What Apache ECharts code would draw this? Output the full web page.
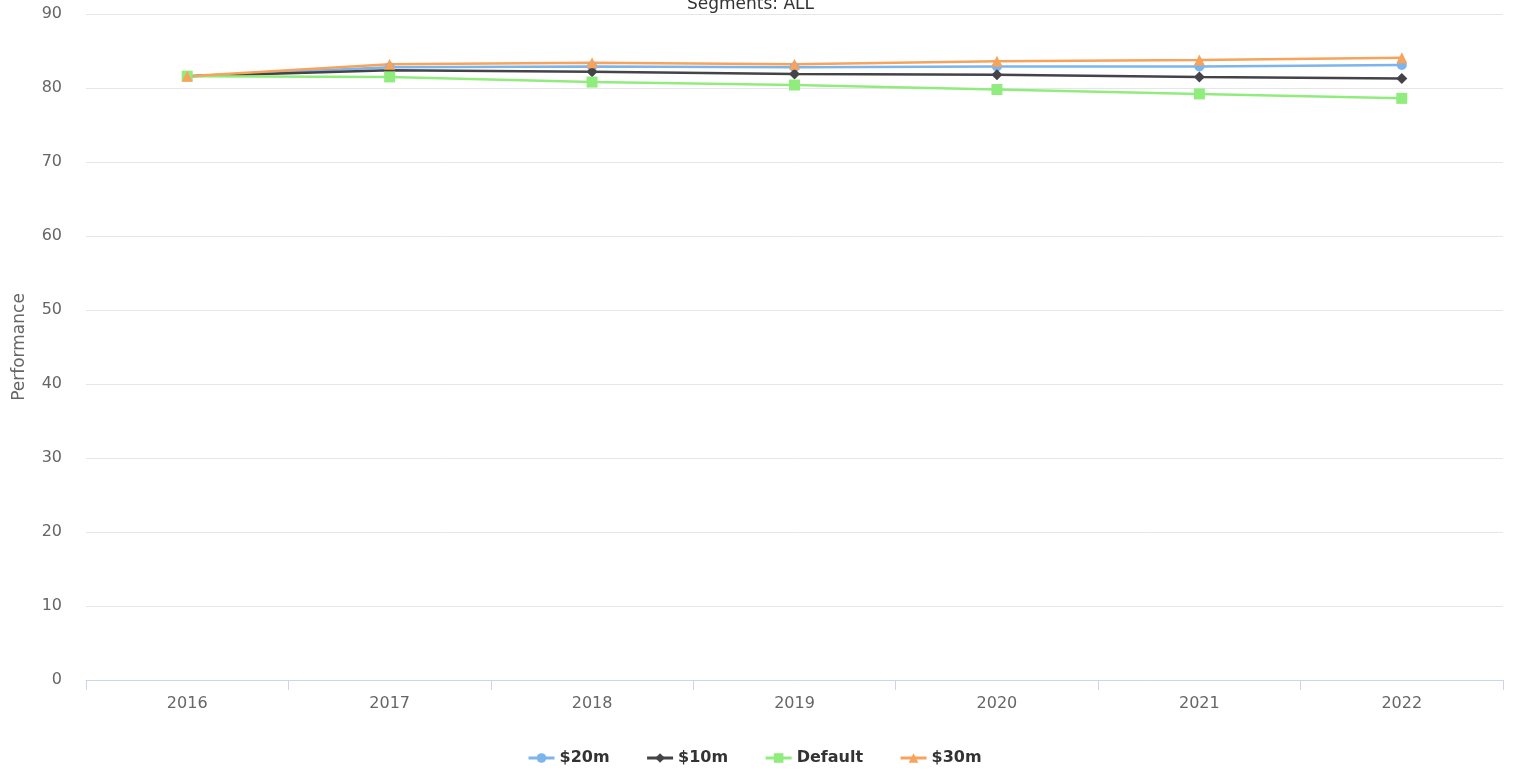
<!DOCTYPE html>
<html>
<head>
<meta charset="utf-8">
<script src="https://cdn.jsdelivr.net/npm/echarts@6/dist/echarts.min.js"></script>
<style>
  html, body { margin: 0; padding: 0; background: #fff; }
  #chart { width: 1515px; height: 770px; }
</style>
</head>
<body>
<div id="chart"></div>
<script>
// years on the x axis
const years = ['2016', '2017', '2018', '2019', '2020', '2021', '2022']
// performance per scenario
const perf20m = [81.6, 82.8, 82.9, 82.8, 82.9, 82.9, 83.1]
const perf10m = [81.6, 82.4, 82.2, 81.9, 81.8, 81.5, 81.3]
const perfDefault = [81.6, 81.5, 80.8, 80.4, 79.8, 79.2, 78.6]
const perf30m = [81.6, 83.2, 83.4, 83.2, 83.6, 83.8, 84.1]

const font = 'DejaVu Sans'
const chart = echarts.init(document.getElementById('chart'))

function line(name, data, color, symbol, size) {
  return {
    name: name,
    type: 'line',
    data: data,
    symbol: symbol,
    symbolSize: size,
    showAllSymbol: true,
    itemStyle: { color: color },
    lineStyle: { color: color, width: 2.5 },
    emphasis: { disabled: true },
    animation: false
  }
}

chart.setOption({
  backgroundColor: '#fff',
  title: {
    text: 'Segments: ALL',
    left: 682,
    top: -9,
    textStyle: { fontFamily: font, fontSize: 17, fontWeight: 'normal', color: '#333' }
  },
  legend: {
    bottom: -1,
    left: 522,
    itemWidth: 26,
    itemHeight: 12,
    itemGap: 36,
    lineStyle: { width: 3 },
    textStyle: { fontFamily: font, fontSize: 16, fontWeight: 'bold', color: '#333' },
    data: ['$20m', '$10m', 'Default', '$30m']
  },
  grid: { left: 86, right: 12, top: 14, bottom: 90 },
  xAxis: {
    type: 'category',
    data: years,
    boundaryGap: true,
    axisLine: { lineStyle: { color: '#ccd6eb', width: 1 } },
    axisTick: { show: true, length: 10, lineStyle: { color: '#ccd6eb' } },
    axisLabel: { fontFamily: font, fontSize: 16, color: '#666', margin: 16 },
    splitLine: { show: false }
  },
  yAxis: {
    type: 'value',
    min: 0,
    max: 90,
    interval: 10,
    name: 'Performance',
    nameLocation: 'middle',
    nameGap: 58,
    nameTextStyle: { fontFamily: font, fontSize: 17, color: '#666' },
    axisLine: { show: false },
    axisTick: { show: false },
    axisLabel: { fontFamily: font, fontSize: 16, color: '#666', margin: 24 },
    splitLine: { lineStyle: { color: '#e6e6e6', width: 1 } }
  },
  series: [
    line('$20m', perf20m, '#7cb5ec', 'circle', 10),
    line('$10m', perf10m, '#434348', 'diamond', 11),
    line('Default', perfDefault, '#90ed7d', 'rect', 11),
    line('$30m', perf30m, '#f7a35c', 'triangle', 11)
  ]
})
</script>
</body>
</html>
